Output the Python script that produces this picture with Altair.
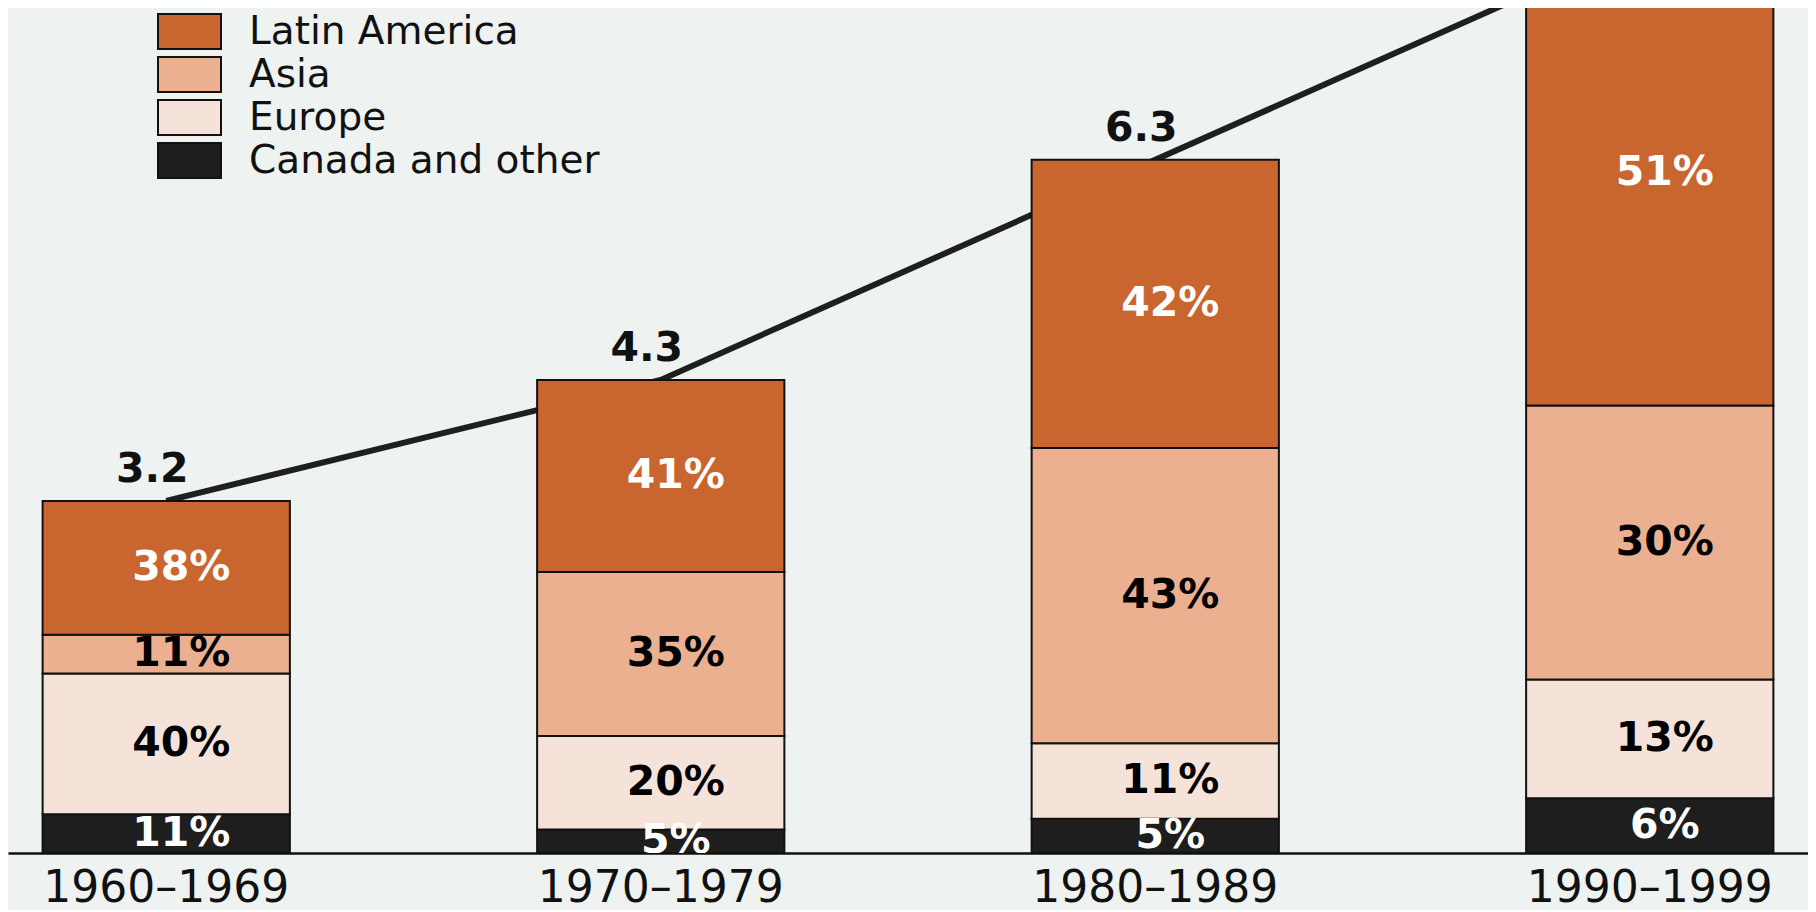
import altair as alt
import pandas as pd

periods = ["1960–1969", "1970–1979", "1980–1989", "1990–1999"]
totals = [3.2, 4.3, 6.3, 8.3]
regions = ["Latin America", "Asia", "Europe", "Canada and other"]
latin_america = [38, 41, 42, 51]
asia = [11, 35, 43, 30]
europe = [40, 20, 11, 13]
canada_other = [11, 5, 5, 6]

colors = ["#c9652f", "#eab08f", "#f5e3d9", "#1e1e1e"]
text_colors = ["white", "black", "black", "white"]

shares = {
    "Latin America": latin_america,
    "Asia": asia,
    "Europe": europe,
    "Canada and other": canada_other,
}

rows = []
stack_order = ["Canada and other", "Europe", "Asia", "Latin America"]
for i, p in enumerate(periods):
    s = sum(shares[r][i] for r in regions)
    base = 0.0
    for r in stack_order:
        pct = shares[r][i]
        v = totals[i] * pct / s
        rows.append({
            "period": p, "region": r, "pct": f"{pct}%",
            "y0": base, "y1": base + v, "mid": base + v / 2,
            "tcolor": text_colors[regions.index(r)],
        })
        base += v
seg = pd.DataFrame(rows)
tot = pd.DataFrame({"period": periods, "total": totals, "label": [f"{t}" for t in totals]})

ymax = 7.68
xscale = alt.Scale(domain=periods, paddingInner=0.5, paddingOuter=0.07)
yscale = alt.Scale(domain=[0, ymax], nice=False, zero=True)

x_enc = alt.X("period:N", scale=xscale, sort=periods,
              axis=alt.Axis(title=None, ticks=False, labelAngle=0, labelFont="DejaVu Sans",
                            labelFontSize=44, labelColor="#111", labelPadding=13,
                            labelLimit=0, domainColor="#111", domainWidth=2.5))

line = alt.Chart(tot).mark_line(color="#1f1f1f", strokeWidth=6, clip=True).encode(
    x=x_enc,
    y=alt.Y("total:Q", scale=yscale, axis=None),
)

bars = alt.Chart(seg).mark_bar(stroke="#111", strokeWidth=2, clip=True, opacity=1).encode(
    x=alt.X("period:N", scale=xscale, sort=periods),
    y=alt.Y("y0:Q", scale=yscale, axis=None),
    y2="y1:Q",
    color=alt.Color("region:N", scale=alt.Scale(domain=regions, range=colors),
                    legend=alt.Legend(title=None, orient="none", legendX=162, legendY=4,
                                      symbolType="M-1.8,-1L1.8,-1L1.8,1L-1.8,1Z",
                                      symbolSize=1225, symbolStrokeColor="#111",
                                      symbolStrokeWidth=2, symbolOpacity=1,
                                      labelFont="DejaVu Sans", labelFontSize=39,
                                      labelColor="#111", labelOffset=40, rowPadding=0,
                                      padding=0, labelLimit=0)),
)

pct_text = alt.Chart(seg).mark_text(font="DejaVu Sans", fontWeight="bold", fontSize=41,
                                    baseline="middle", dx=15, clip=True).encode(
    x=alt.X("period:N", scale=xscale, sort=periods),
    y=alt.Y("mid:Q", scale=yscale, axis=None),
    text="pct:N",
    color=alt.Color("tcolor:N", scale=None, legend=None),
)

tot_text = alt.Chart(tot).transform_filter(
    alt.datum.total < ymax - 0.5
).mark_text(font="DejaVu Sans", fontWeight="bold", fontSize=41,
            baseline="middle", dx=-14, dy=-31, color="#111").encode(
    x=alt.X("period:N", scale=xscale, sort=periods),
    y=alt.Y("total:Q", scale=yscale, axis=None),
    text="label:N",
)

chart = alt.layer(line, bars, pct_text, tot_text).resolve_scale(color="independent").properties(
    width=1800, height=845, padding=0, background="#eef3f1"
).configure_view(stroke=None)

chart.save("out.html", embed_options={"renderer": "svg", "actions": False})
